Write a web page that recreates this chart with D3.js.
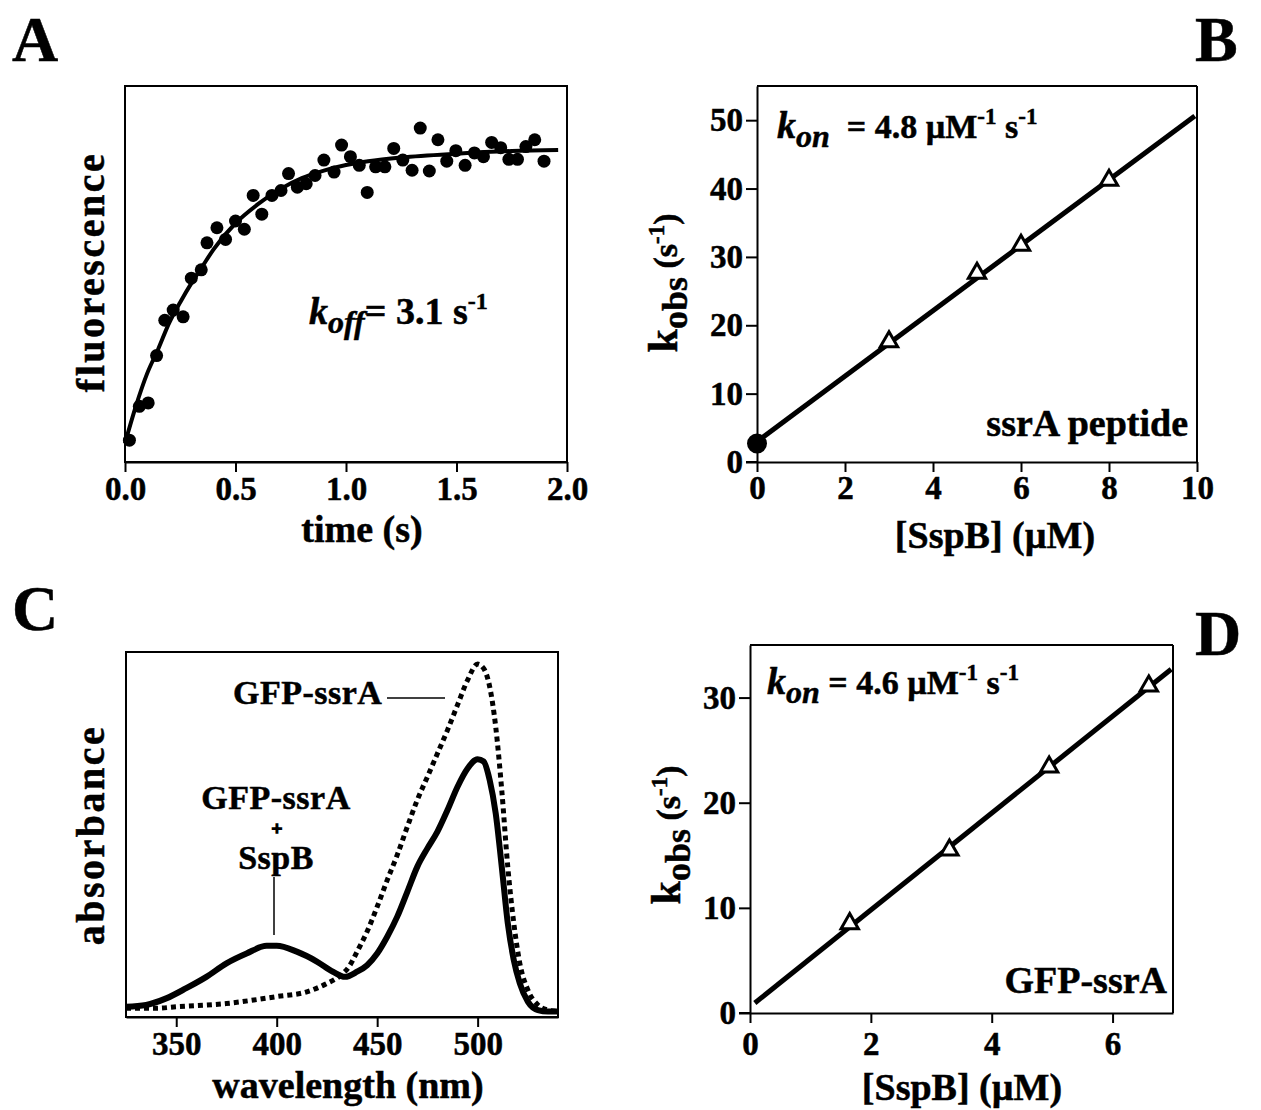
<!DOCTYPE html>
<html>
<head>
<meta charset="utf-8">
<script src="https://cdn.jsdelivr.net/npm/d3@7"></script>
<style>
body { margin: 0; background: #fff; }
svg text { font-family: "Liberation Serif", "Times New Roman", serif; font-weight: bold; fill: #000; stroke: #000; stroke-width: 0.5px; }
.tick text { font-size: 33px; }
.tick line, .domain { stroke: #000; stroke-width: 2px; }
</style>
</head>
<body>
<svg width="1261" height="1110"></svg>
<script>
// A: dissociation trace
const timeA = [0.02, 0.065, 0.105, 0.143, 0.18, 0.218, 0.263, 0.30, 0.345, 0.371, 0.416, 0.455, 0.50, 0.54,
    0.58, 0.619, 0.665, 0.706, 0.74, 0.78, 0.82, 0.86, 0.90, 0.946, 0.98, 1.02, 1.06, 1.096, 1.134, 1.176,
    1.216, 1.257, 1.299, 1.336, 1.377, 1.416, 1.456, 1.497, 1.539, 1.581, 1.622, 1.659, 1.70, 1.737, 1.776,
    1.814, 1.854, 1.896]
const fluorA = [0.058, 0.148, 0.157, 0.283, 0.377, 0.404, 0.386, 0.489, 0.511, 0.583, 0.623, 0.592, 0.641, 0.619,
    0.709, 0.659, 0.709, 0.722, 0.767, 0.731, 0.74, 0.762, 0.803, 0.771, 0.843, 0.812, 0.789, 0.717, 0.785, 0.785,
    0.834, 0.803, 0.776, 0.888, 0.774, 0.857, 0.80, 0.828, 0.789, 0.822, 0.812, 0.85, 0.836, 0.805, 0.805,
    0.839, 0.857, 0.80]
const fitTimeA = [0, 0.05, 0.1, 0.15, 0.2, 0.25, 0.3, 0.35, 0.4, 0.5, 0.6, 0.7, 0.8, 0.9, 1.0, 1.1, 1.25, 1.5, 1.75, 1.96]
const fitFluorA = [0.05, 0.15, 0.235, 0.30, 0.37, 0.425, 0.475, 0.52, 0.565, 0.635, 0.685, 0.725, 0.755, 0.775, 0.79, 0.80, 0.81, 0.82, 0.827, 0.83]
const ticksA = [0, 0.5, 1.0, 1.5, 2.0]

// B: ssrA peptide
const sspbB = [3, 5, 6, 8]
const kobsB = [17.6, 27.6, 31.7, 41.2]
const koffB = [0, 2.7]
const fitXB = [0, 9.95]
const fitYB = [3.0, 50.6]
const xTicksB = [0, 2, 4, 6, 8, 10]
const yTicksB = [0, 10, 20, 30, 40, 50]

// C: absorbance spectra
const wlFree = [325, 340, 350, 375, 400, 415, 425, 432, 436, 440, 445, 450, 455, 460, 465, 470, 475, 480, 485, 490,
    495, 500, 503, 506, 509, 512, 515, 518, 521, 525, 530, 535, 540]
const absFree = [0.024, 0.024, 0.028, 0.037, 0.056, 0.069, 0.092, 0.115, 0.138, 0.179, 0.234, 0.302, 0.375, 0.444,
    0.521, 0.595, 0.658, 0.722, 0.786, 0.855, 0.923, 0.967, 0.955, 0.905, 0.795, 0.622, 0.412, 0.257, 0.147,
    0.074, 0.033, 0.019, 0.015]
const wlBound = [325, 335, 345, 355, 365, 375, 385, 395, 400, 410, 420, 428, 434, 440, 445, 450, 455, 460, 465, 470,
    475, 480, 485, 490, 495, 500, 503, 506, 509, 512, 515, 518, 521, 525, 530, 535, 540]
const absBound = [0.028, 0.033, 0.051, 0.079, 0.11, 0.147, 0.174, 0.195, 0.195, 0.179, 0.152, 0.124, 0.11, 0.124,
    0.142, 0.174, 0.22, 0.275, 0.343, 0.412, 0.462, 0.508, 0.567, 0.631, 0.681, 0.706, 0.70, 0.649, 0.558, 0.412,
    0.257, 0.156, 0.092, 0.042, 0.019, 0.015, 0.015]
const ticksC = [350, 400, 450, 500]

// D: GFP-ssrA
const sspbD = [1.65, 3.3, 4.95, 6.6]
const kobsD = [8.5, 15.5, 23.4, 31.1]
const fitXD = [0.08, 6.97]
const fitYD = [0.95, 32.7]
const xTicksD = [0, 2, 4, 6]
const yTicksD = [0, 10, 20, 30]

const svg = d3.select("svg")

const xA = d3.scaleLinear().domain([0, 2]).range([125, 567])
const yA = d3.scaleLinear().domain([0, 1]).range([462, 86])
const xB = d3.scaleLinear().domain([0, 10]).range([757, 1197])
const yB = d3.scaleLinear().domain([0, 55]).range([462, 86])
const xC = d3.scaleLinear().domain([325, 540]).range([126, 558])
const yC = d3.scaleLinear().domain([0, 1]).range([1017, 652])
const xD = d3.scaleLinear().domain([0, 7]).range([750, 1173])
const yD = d3.scaleLinear().domain([0, 35]).range([1013, 645])

function frame(x, y) {
    svg.append("rect")
        .attr("x", x.range()[0])
        .attr("y", y.range()[1])
        .attr("width", x.range()[1] - x.range()[0])
        .attr("height", y.range()[0] - y.range()[1])
        .style("fill", "none")
        .style("stroke", "black")
        .style("stroke-width", "2px")
}

function bottomAxis(x, y, ticks, fmt, pad) {
    svg.append("g")
        .attr("transform", `translate(0,${y.range()[0]})`)
        .call(d3.axisBottom(x).tickValues(ticks).tickFormat(fmt).tickSize(10).tickSizeOuter(0).tickPadding(pad))
        .attr("font-family", null).attr("font-size", null)
}

function leftAxis(x, y, ticks) {
    svg.append("g")
        .attr("transform", `translate(${x.range()[0]},0)`)
        .call(d3.axisLeft(y).tickValues(ticks).tickSize(11).tickSizeOuter(0).tickPadding(3))
        .attr("font-family", null).attr("font-size", null)
    // x axis line runs out to the end of the y ticks
    svg.append("line")
        .attr("x1", x.range()[0] - 11).attr("x2", x.range()[0])
        .attr("y1", y.range()[0]).attr("y2", y.range()[0])
        .style("stroke", "black").style("stroke-width", "2px")
}

function yTitle(x, yc, parts) {
    const t = svg.append("text")
        .attr("transform", `translate(${x},${yc}) rotate(-90)`)
        .attr("text-anchor", "middle")
    parts.forEach(p => t.append("tspan").attr("dy", p.dy || 0).style("font-size", p.size + "px")
        .style("letter-spacing", (p.ls || 0) + "px").text(p.t))
}

function richText(x, y, parts, anchor) {
    const t = svg.append("text").attr("x", x).attr("y", y).attr("text-anchor", anchor || "start")
    parts.forEach(p => t.append("tspan").attr("dy", p.dy || 0).style("font-size", p.size + "px")
        .style("font-style", p.it ? "italic" : "normal").style("letter-spacing", (p.ls || 0) + "px")
        .attr("xml:space", "preserve").text(p.t))
    return t
}

function letter(x, y, s) {
    svg.append("text").attr("x", x).attr("y", y).style("font-size", "64px").text(s)
}

// ---------- A ----------
letter(12, 61, "A")
frame(xA, yA)
bottomAxis(xA, yA, ticksA, d3.format(".1f"), 5)

svg.append("path")
    .datum(d3.zip(fitTimeA, fitFluorA))
    .attr("d", d3.line().x(d => xA(d[0])).y(d => yA(d[1])).curve(d3.curveMonotoneX))
    .style("fill", "none").style("stroke", "black").style("stroke-width", "4px")

svg.selectAll("circle.ptA")
    .data(d3.zip(timeA, fluorA))
    .enter()
    .append("circle")
    .attr("class", "ptA")
    .attr("cx", d => xA(d[0]))
    .attr("cy", d => yA(d[1]))
    .attr("r", 6.5)
    .style("fill", "black")

richText(309, 324, [
    { t: "k", size: 38, it: true },
    { t: "off", size: 32, it: true, dy: 9 },
    { t: "= 3.1 s", size: 38, dy: -9 },
    { t: "-1", size: 24, dy: -15 }
])
richText(362, 542, [{ t: "time (s)", size: 38 }], "middle")
yTitle(104, 272, [{ t: "fluorescence", size: 40, ls: 2.5 }])

// ---------- B ----------
letter(1195, 61, "B")
svg.append("line").attr("x1", xB(0)).attr("x2", xB(10)).attr("y1", yB(55)).attr("y2", yB(55))
    .style("stroke", "black").style("stroke-width", "2px")
svg.append("line").attr("x1", xB(10)).attr("x2", xB(10)).attr("y1", yB(55)).attr("y2", yB(0))
    .style("stroke", "black").style("stroke-width", "2px")
bottomAxis(xB, yB, xTicksB, d3.format("d"), 4)
leftAxis(xB, yB, yTicksB)

svg.append("line")
    .attr("x1", xB(fitXB[0])).attr("y1", yB(fitYB[0]))
    .attr("x2", xB(fitXB[1])).attr("y2", yB(fitYB[1]))
    .style("stroke", "black").style("stroke-width", "5px")

svg.append("circle")
    .attr("cx", xB(koffB[0])).attr("cy", yB(koffB[1])).attr("r", 10)
    .style("fill", "black")

const tri = d3.symbol().type(d3.symbolTriangle).size(130)

svg.selectAll("path.triB")
    .data(d3.zip(sspbB, kobsB))
    .enter()
    .append("path")
    .attr("class", "triB")
    .attr("d", tri)
    .attr("transform", d => `translate(${xB(d[0])},${yB(d[1])})`)
    .style("fill", "white").style("stroke", "black").style("stroke-width", "3px")

richText(777, 138, [
    { t: "k", size: 38, it: true },
    { t: "on", size: 32, it: true, dy: 9 },
    { t: "  = 4.8 µM", size: 34, dy: -9 },
    { t: "-1", size: 23, dy: -14 },
    { t: " s", size: 34, dy: 14 },
    { t: "-1", size: 23, dy: -14 }
])
richText(1188, 436, [{ t: "ssrA peptide", size: 38 }], "end")
richText(995, 548, [{ t: "[SspB] (µM)", size: 38 }], "middle")
yTitle(677, 283, [
    { t: "k", size: 42 },
    { t: "obs", size: 36, dy: 10 },
    { t: " (s", size: 34, dy: -10 },
    { t: "-1", size: 23, dy: -13 },
    { t: ")", size: 34, dy: 13 }
])

// ---------- C ----------
letter(12, 630, "C")
frame(xC, yC)
bottomAxis(xC, yC, ticksC, d3.format("d"), 5)

const lineC = d3.line().x(d => xC(d[0])).y(d => yC(d[1])).curve(d3.curveMonotoneX)

svg.append("path")
    .datum(d3.zip(wlFree, absFree))
    .attr("d", lineC)
    .style("fill", "none").style("stroke", "black").style("stroke-width", "5px")
    .style("stroke-dasharray", "5,4")

svg.append("path")
    .datum(d3.zip(wlBound, absBound))
    .attr("d", lineC)
    .style("fill", "none").style("stroke", "black").style("stroke-width", "6px")

richText(233, 704, [{ t: "GFP-ssrA", size: 34, ls: 0.5 }])
svg.append("line").attr("x1", 387).attr("x2", 445).attr("y1", 698).attr("y2", 698)
    .style("stroke", "black").style("stroke-width", "1.5px")
richText(276, 809, [{ t: "GFP-ssrA", size: 34, ls: 0.5 }], "middle")
richText(277, 835, [{ t: "+", size: 19 }], "middle").style("stroke-width", "1.6px")
richText(276, 869, [{ t: "SspB", size: 34, ls: 0.5 }], "middle")
svg.append("line").attr("x1", 274).attr("x2", 274).attr("y1", 877).attr("y2", 935)
    .style("stroke", "black").style("stroke-width", "1.5px")

richText(348, 1098, [{ t: "wavelength (nm)", size: 38 }], "middle")
yTitle(104, 835, [{ t: "absorbance", size: 40, ls: 2.5 }])

// ---------- D ----------
letter(1195, 655, "D")
svg.append("line").attr("x1", xD(0)).attr("x2", xD(7)).attr("y1", yD(35)).attr("y2", yD(35))
    .style("stroke", "black").style("stroke-width", "2px")
svg.append("line").attr("x1", xD(7)).attr("x2", xD(7)).attr("y1", yD(35)).attr("y2", yD(0))
    .style("stroke", "black").style("stroke-width", "2px")
bottomAxis(xD, yD, xTicksD, d3.format("d"), 9)
leftAxis(xD, yD, yTicksD)

svg.append("line")
    .attr("x1", xD(fitXD[0])).attr("y1", yD(fitYD[0]))
    .attr("x2", xD(fitXD[1])).attr("y2", yD(fitYD[1]))
    .style("stroke", "black").style("stroke-width", "5px")

svg.selectAll("path.triD")
    .data(d3.zip(sspbD, kobsD))
    .enter()
    .append("path")
    .attr("class", "triD")
    .attr("d", tri)
    .attr("transform", d => `translate(${xD(d[0])},${yD(d[1])})`)
    .style("fill", "white").style("stroke", "black").style("stroke-width", "3px")

richText(767, 694, [
    { t: "k", size: 38, it: true },
    { t: "on", size: 32, it: true, dy: 9 },
    { t: " = 4.6 µM", size: 34, dy: -9 },
    { t: "-1", size: 23, dy: -14 },
    { t: " s", size: 34, dy: 14 },
    { t: "-1", size: 23, dy: -14 }
])
richText(1167, 993, [{ t: "GFP-ssrA", size: 38 }], "end")
richText(962, 1100, [{ t: "[SspB] (µM)", size: 38 }], "middle")
yTitle(680, 835, [
    { t: "k", size: 42 },
    { t: "obs", size: 36, dy: 10 },
    { t: " (s", size: 34, dy: -10 },
    { t: "-1", size: 23, dy: -13 },
    { t: ")", size: 34, dy: 13 }
])
</script>
</body>
</html>
